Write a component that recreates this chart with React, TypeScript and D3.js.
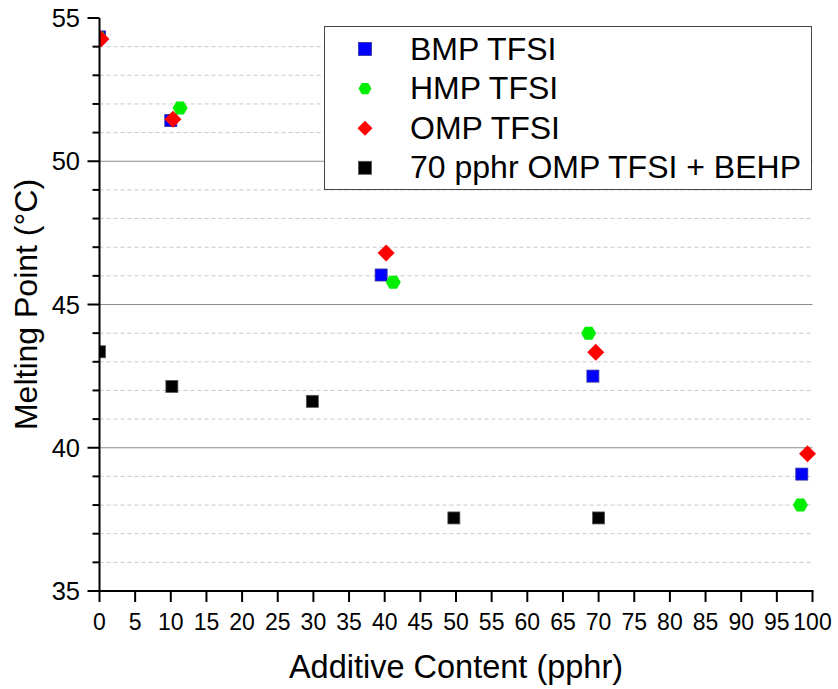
import React from "react";
import * as d3 from "d3";

const bmpX = [0, 10, 39.5, 69.2, 98.5];
const bmpY = [54.34, 51.42, 46.03, 42.5, 39.08];
const hmpX = [0, 11.3, 41.2, 68.6, 98.3];
const hmpY = [54.3, 51.86, 45.78, 44.0, 38.0];
const ompX = [0.2, 10.3, 40.2, 69.6, 99.3];
const ompY = [54.27, 51.47, 46.8, 43.33, 39.79];
const behpX = [0, 10.15, 29.85, 49.7, 70];
const behpY = [43.35, 42.14, 41.62, 37.55, 37.55];

const legendLabels = ["BMP TFSI", "HMP TFSI", "OMP TFSI", "70 pphr OMP TFSI + BEHP"];
const xTicks = d3.range(0, 101, 5);
const yTicks = [35, 40, 45, 50, 55];
const yMinor = d3.range(35, 56, 1);

const W = 838;
const H = 689;
const left = 99.5;
const right = 812.5;
const top = 18;
const bottom = 591;
const FONT = "'Liberation Sans', Arial, Helvetica, sans-serif";

const xs = d3.scaleLinear().domain([0, 100]).range([left, right]);
const ys = d3.scaleLinear().domain([35, 55]).range([bottom, top]);

function hexPath(r: number) {
  const pts: [number, number][] = [];
  for (let i = 0; i < 6; i++) {
    const a = (Math.PI / 3) * i;
    pts.push([r * Math.cos(a), r * Math.sin(a)]);
  }
  return d3.line()(pts)! + "Z";
}
function diamondPath(r: number) {
  return `M0,${-r}L${r},0L0,${r}L${-r},0Z`;
}

type Kind = "sq" | "hex" | "dia";
function Marker({ kind, color, size, stroke }: { kind: Kind; color: string; size: number; stroke?: string }) {
  if (kind === "sq") {
    return <rect x={-size / 2} y={-size / 2} width={size} height={size} fill={color} stroke={stroke || "none"} strokeWidth={0.8} />;
  }
  if (kind === "hex") return <path d={hexPath(size / 2)} fill={color} />;
  return <path d={diamondPath(size / 2)} fill={color} />;
}

const series = [
  { xsArr: bmpX, ysArr: bmpY, kind: "sq" as Kind, color: "#0000ff", size: 12, stroke: "#3030a0" },
  { xsArr: hmpX, ysArr: hmpY, kind: "hex" as Kind, color: "#00ee00", size: 15 },
  { xsArr: ompX, ysArr: ompY, kind: "dia" as Kind, color: "#ff0000", size: 17 },
  { xsArr: behpX, ysArr: behpY, kind: "sq" as Kind, color: "#000000", size: 12, stroke: "#555" },
];

export default function App() {
  return (
    <svg
      width={W}
      height={H}
      style={{ position: "absolute", left: 0, top: 0, display: "block", background: "#fff" }}
      fontFamily={FONT}
    >
      <defs>
        <clipPath id="plotClip">
          <rect x={left} y={top - 10} width={right - left + 10} height={bottom - top + 10} />
        </clipPath>
      </defs>
      {/* minor gridlines */}
      {yMinor
        .filter((v) => v % 5 !== 0)
        .map((v) => (
          <line key={"g" + v} x1={left} x2={right} y1={ys(v)} y2={ys(v)} stroke="#c8c8c8" strokeWidth={1} strokeDasharray="4,3" />
        ))}
      {/* major gridlines */}
      {yTicks
        .filter((v) => v !== 35 && v !== 55)
        .map((v) => (
          <line key={"G" + v} x1={left} x2={right} y1={ys(v)} y2={ys(v)} stroke="#8c8c8c" strokeWidth={1.2} />
        ))}

      {/* markers */}
      <g clipPath="url(#plotClip)">
        {series.map((s, si) =>
          s.xsArr.map((xv, i) => (
            <g key={si + "-" + i} transform={`translate(${xs(xv)},${ys(s.ysArr[i])})`}>
              <Marker kind={s.kind} color={s.color} size={s.size} stroke={s.stroke} />
            </g>
          ))
        )}
      </g>

      {/* y axis */}
      <line x1={left} x2={left} y1={top} y2={bottom + 1} stroke="#000" strokeWidth={2} />
      {yMinor.map((v) => (
        <line key={"yt" + v} x1={left} x2={left - (v % 5 === 0 ? 12 : 7)} y1={ys(v)} y2={ys(v)} stroke="#000" strokeWidth={2} />
      ))}
      {yTicks.map((v) => (
        <text key={"yl" + v} x={80} y={ys(v) + 9} textAnchor="end" fontSize={25.5} fill="#000">
          {v}
        </text>
      ))}

      {/* x axis */}
      <line x1={left - 1} x2={right + 1} y1={bottom} y2={bottom} stroke="#000" strokeWidth={2} />
      {xTicks.map((v) => (
        <line key={"xt" + v} x1={xs(v)} x2={xs(v)} y1={bottom} y2={bottom + 11} stroke="#000" strokeWidth={2} />
      ))}
      {xTicks.map((v) => (
        <text key={"xl" + v} x={xs(v)} y={630} textAnchor="middle" fontSize={23} fill="#000">
          {v}
        </text>
      ))}

      {/* axis titles */}
      <text x={(left + right) / 2} y={678} textAnchor="middle" fontSize={32.5} fill="#000">
        Additive Content (pphr)
      </text>
      <text
        transform={`translate(37,${(top + bottom) / 2}) rotate(-90)`}
        textAnchor="middle"
        fontSize={32}
        fill="#000"
      >
        Melting Point (°C)
      </text>

      {/* legend */}
      <rect x={324.5} y={26.5} width={487} height={163} fill="#fff" stroke="#444" strokeWidth={1} />
      {legendLabels.map((lab, i) => {
        const cy = 49 + i * 39.6;
        const s = series[i];
        return (
          <g key={"lg" + i}>
            <g transform={`translate(365,${cy})`}>
              <Marker kind={s.kind} color={s.color} size={i === 2 ? 15 : 13} stroke={s.stroke} />
            </g>
            <text x={410} y={cy + 10.5} fontSize={32} fill="#000">
              {lab}
            </text>
          </g>
        );
      })}
    </svg>
  );
}
